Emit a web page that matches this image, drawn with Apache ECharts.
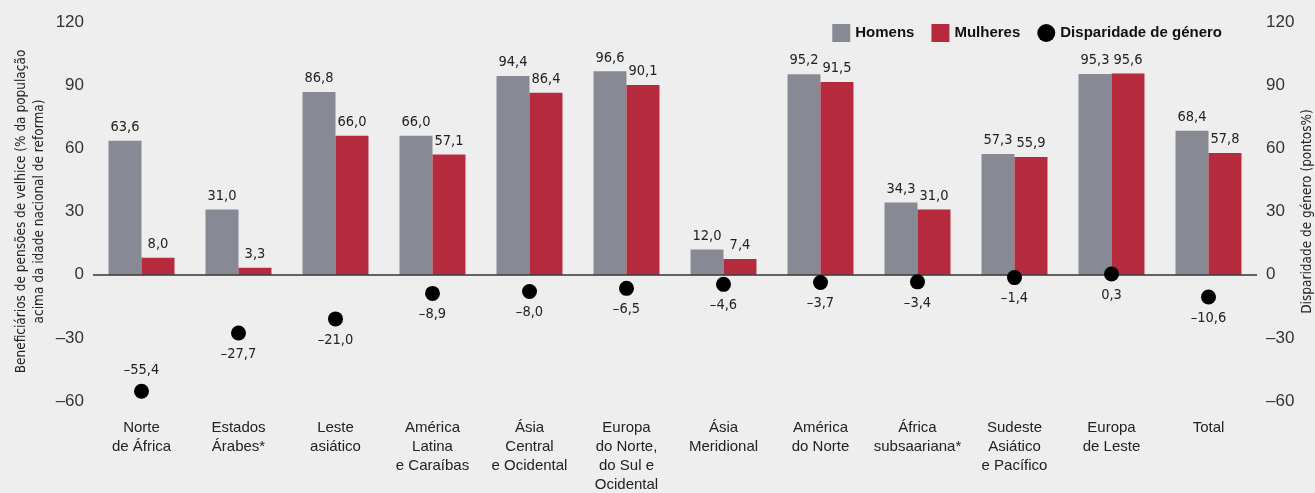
<!DOCTYPE html>
<html><head><meta charset="utf-8">
<script src="https://cdn.jsdelivr.net/npm/echarts@6/dist/echarts.min.js"></script>
<style>html,body{margin:0;padding:0;background:#eeeeee}#c{width:1315px;height:493px}</style>
</head><body><div id="c"></div>
<script>
const categories = ['Norte\nde África','Estados\nÁrabes*','Leste\nasiático','América\nLatina\ne Caraíbas','Ásia\nCentral\ne Ocidental','Europa\ndo Norte,\ndo Sul e\nOcidental','Ásia\nMeridional','América\ndo Norte','África\nsubsaariana*','Sudeste\nAsiático\ne Pacífico','Europa\nde Leste','Total'];
const homens = [63.6, 31.0, 86.8, 66.0, 94.4, 96.6, 12.0, 95.2, 34.3, 57.3, 95.3, 68.4];
const mulheres = [8.0, 3.3, 66.0, 57.1, 86.4, 90.1, 7.4, 91.5, 31.0, 55.9, 95.6, 57.8];
const disparidade = [-55.4, -27.7, -21.0, -8.9, -8.0, -6.5, -4.6, -3.7, -3.4, -1.4, 0.3, -10.6];

const COND = "'Liberation Sans Narrow','DejaVu Sans Condensed','Roboto Condensed',sans-serif";
const REG = "'Liberation Sans','Roboto',sans-serif";
const fmt = v => v.toFixed(1).replace('.', ',').replace('-', '–');
const tick = v => String(v).replace('-', '–');

const chart = echarts.init(document.getElementById('c'));
chart.setOption({
  backgroundColor: '#eeeeee',
  animation: false,
  legend: {
    top: 19, right: 88, itemWidth: 18, itemHeight: 18, itemGap: 17,
    textStyle: { fontFamily: REG, fontWeight: 'bold', fontSize: 15, color: '#111' },
    data: [
      { name: 'Homens', icon: 'rect' },
      { name: 'Mulheres', icon: 'rect' },
      { name: 'Disparidade de género', icon: 'circle' }
    ]
  },
  grid: { left: 93, right: 58, top: 22, bottom: 92, outerBoundsMode: 'none', containLabel: false },
  xAxis: {
    type: 'category', data: categories,
    axisLine: { show: false }, axisTick: { show: false },
    axisLabel: { margin: 17, fontFamily: REG, fontSize: 15, color: '#222', lineHeight: 19, interval: 0, verticalAlign: 'top' }
  },
  yAxis: [
    { type: 'value', min: -60, max: 120, interval: 30, position: 'left',
      name: 'Beneficiários de pensões de velhice (% da população\nacima da idade nacional de reforma)',
      nameLocation: 'middle', nameGap: 45, nameMoveOverlap: false,
      nameTextStyle: { fontFamily: COND, fontSize: 13.5, color: '#222', lineHeight: 18 },
      splitLine: { show: false }, axisLine: { show: false }, axisTick: { show: false },
      axisLabel: { margin: 9, fontFamily: REG, fontSize: 17, color: '#333', formatter: tick } },
    { type: 'value', min: -60, max: 120, interval: 30, position: 'right',
      name: 'Disparidade de género (pontos%)',
      nameLocation: 'middle', nameGap: 43, nameMoveOverlap: false,
      nameTextStyle: { fontFamily: COND, fontSize: 13.5, color: '#222' },
      splitLine: { show: false }, axisLine: { show: false }, axisTick: { show: false },
      axisLabel: { margin: 9, fontFamily: REG, fontSize: 17, color: '#333', formatter: tick } }
  ],
  series: [
    { name: 'Homens', type: 'bar', data: homens, barWidth: '34%', barGap: '0%',
      itemStyle: { color: '#878995' },
      label: { show: true, position: 'top', distance: 6, fontFamily: COND, fontSize: 14.5, color: '#222', formatter: p => fmt(p.value) },
      markLine: { silent: true, symbol: 'none', label: { show: false },
        lineStyle: { color: '#333', width: 1.5, type: 'solid' }, data: [{ yAxis: 0 }], z: 5 } },
    { name: 'Mulheres', type: 'bar', data: mulheres, barWidth: '34%', barGap: '0%',
      itemStyle: { color: '#b52a3d' },
      label: { show: true, position: 'top', distance: 6, fontFamily: COND, fontSize: 14.5, color: '#222', formatter: p => fmt(p.value) } },
    { name: 'Disparidade de género', type: 'scatter', symbolSize: 15,
      itemStyle: { color: '#000', opacity: 1 }, z: 10,
      data: disparidade.map(v => ({ value: v, label: { position: v < -40 ? 'top' : 'bottom' } })),
      label: { show: true, distance: 6, fontFamily: COND, fontSize: 14.5, color: '#222', formatter: p => fmt(p.value) } }
  ]
});
</script></body></html>
